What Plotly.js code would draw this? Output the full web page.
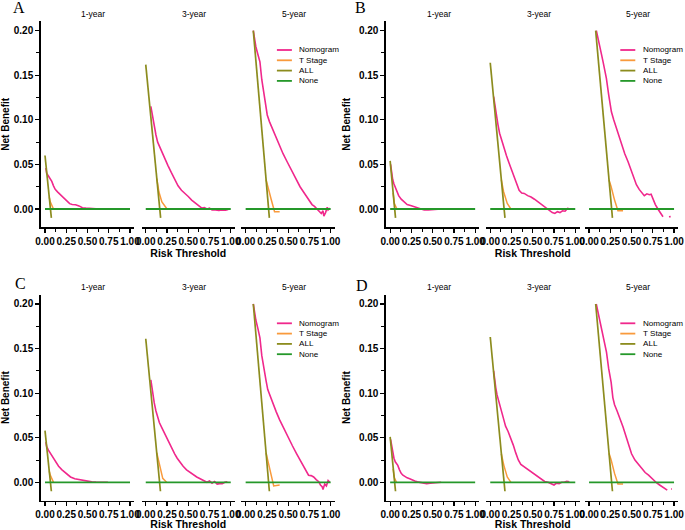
<!DOCTYPE html>
<html>
<head>
<meta charset="utf-8">
<script src="https://cdn.plot.ly/plotly-3.0.1.min.js"></script>
<style>html,body{margin:0;padding:0;background:#fff;}#chart{width:685px;height:530px;}</style>
</head>
<body>
<div id="chart"></div>
<script>
// ---------- data ----------
const panelLetters = ['A', 'B', 'C', 'D'];
const horizonLabels = ['1-year', '3-year', '5-year'];
const seriesNames = ['Nomogram', 'T Stage', 'ALL', 'None'];
const xTickVals = [0, 0.25, 0.5, 0.75, 1];
const xTickText = ['0.00', '0.25', '0.50', '0.75', '1.00'];
const yTickVals = [0, 0.05, 0.1, 0.15, 0.2];
const yTickText = ['0.00', '0.05', '0.10', '0.15', '0.20'];
const noneX = [0, 1];
const noneY = [0, 0];

// Panel A
const nomA1x = [0.01, 0.02, 0.04, 0.06, 0.08, 0.10, 0.12, 0.15, 0.18, 0.21, 0.25, 0.29, 0.32, 0.36, 0.40, 0.44, 0.48, 0.53, 0.60, 0.70, 0.80, 0.86];
const nomA1y = [0.046, 0.040, 0.037, 0.034, 0.031, 0.026, 0.022, 0.019, 0.016, 0.013, 0.009, 0.006, 0.005, 0.0048, 0.0035, 0.0015, 0.001, 0.0005, 0.0003, 0.0002, 0.0003, 0.0];
const tA1x = [0.05, 0.062, 0.10];
const tA1y = [0.0133, 0.008, 0.0];
const allA1x = [0, 0.075];
const allA1y = [0.060, -0.010];

const nomA3x = [0.06, 0.08, 0.10, 0.12, 0.14, 0.17, 0.20, 0.23, 0.26, 0.30, 0.34, 0.38, 0.42, 0.46, 0.50, 0.54, 0.58, 0.62, 0.66, 0.69, 0.72, 0.75, 0.78, 0.82, 0.86, 0.90, 0.94, 0.97];
const nomA3y = [0.115, 0.103, 0.092, 0.083, 0.075, 0.068, 0.062, 0.055, 0.049, 0.041, 0.033, 0.026, 0.021, 0.018, 0.014, 0.010, 0.007, 0.004, 0.001, 0.0015, 0.0, 0.001, -0.001, -0.001, -0.0015, -0.001, -0.0012, -0.0005];
const tA3x = [0.13, 0.155, 0.19, 0.24, 0.25];
const tA3y = [0.034, 0.019, 0.008, 0.0007, 0.0];
const allA3x = [0, 0.175];
const allA3y = [0.162, -0.010];

const nomA5x = [0.09, 0.10, 0.12, 0.145, 0.168, 0.19, 0.215, 0.235, 0.254, 0.28, 0.312, 0.35, 0.39, 0.44, 0.488, 0.54, 0.586, 0.64, 0.703, 0.74, 0.781, 0.81, 0.84, 0.87, 0.89, 0.91, 0.92, 0.94, 0.96, 0.97, 0.99];
const nomA5y = [0.200, 0.192, 0.182, 0.173, 0.165, 0.145, 0.128, 0.116, 0.1055, 0.098, 0.0906, 0.081, 0.072, 0.062, 0.053, 0.043, 0.035, 0.025, 0.016, 0.010, 0.005, 0.003, 0.000, -0.003, -0.005, -0.002, -0.008, -0.004, 0.002, -0.001, 0.001];
const tA5x = [0.24, 0.26, 0.30, 0.34, 0.40];
const tA5y = [0.033, 0.025, 0.011, -0.003, -0.003];
const allA5x = [0.09, 0.279];
const allA5y = [0.200, -0.010];

// Panel B
const nomB1x = [0.005, 0.012, 0.02, 0.03, 0.045, 0.06, 0.08, 0.10, 0.13, 0.16, 0.20, 0.24, 0.28, 0.32, 0.36, 0.40, 0.45, 0.50, 0.55, 0.60];
const nomB1y = [0.050, 0.045, 0.038, 0.033, 0.028, 0.024, 0.019, 0.015, 0.011, 0.008, 0.005, 0.004, 0.0028, 0.0015, 0.0, -0.001, -0.001, -0.0008, -0.0003, 0.0];
const tB1x = [0.035, 0.05, 0.08];
const tB1y = [0.018, 0.006, 0.0];
const allB1x = [0, 0.063];
const allB1y = [0.054, -0.010];

const nomB3x = [0.04, 0.055, 0.07, 0.09, 0.11, 0.13, 0.15, 0.17, 0.19, 0.22, 0.25, 0.28, 0.31, 0.34, 0.37, 0.40, 0.44, 0.48, 0.52, 0.56, 0.60, 0.63, 0.66, 0.70, 0.73, 0.76, 0.79, 0.82, 0.85, 0.88, 0.91, 0.94];
const nomB3y = [0.126, 0.115, 0.106, 0.095, 0.085, 0.078, 0.071, 0.065, 0.060, 0.052, 0.044, 0.036, 0.027, 0.021, 0.018, 0.0175, 0.015, 0.0135, 0.011, 0.008, 0.005, 0.003, 0.0005, -0.002, -0.004, -0.005, -0.003, -0.004, -0.002, -0.0025, 0.0007, 0.0];
const tB3x = [0.13, 0.157, 0.20, 0.243];
const tB3y = [0.033, 0.0194, 0.0063, 0.0];
const allB3x = [0, 0.173];
const allB3y = [0.164, -0.010];

const nomB5x = [0.086, 0.10, 0.125, 0.145, 0.165, 0.185, 0.204, 0.231, 0.263, 0.29, 0.322, 0.35, 0.38, 0.42, 0.459, 0.49, 0.518, 0.557, 0.59, 0.62, 0.65, 0.68, 0.71, 0.73, 0.75, 0.78, 0.81, 0.84, 0.87, null, 0.94, 0.96];
const nomB5y = [0.200, 0.193, 0.183, 0.174, 0.165, 0.155, 0.1465, 0.128, 0.109, 0.100, 0.0906, 0.081, 0.072, 0.062, 0.053, 0.045, 0.0384, 0.0272, 0.022, 0.018, 0.015, 0.017, 0.016, 0.0165, 0.011, 0.005, 0.0, -0.004, -0.0086, null, -0.0086, -0.0085];
const tB5x = [0.235, 0.26, 0.30, 0.34, 0.40];
const tB5y = [0.0326, 0.025, 0.010, -0.002, -0.002];
const allB5x = [0.078, 0.275];
const allB5y = [0.200, -0.010];

// Panel C
const nomC1x = [0.01, 0.02, 0.04, 0.06, 0.08, 0.10, 0.13, 0.16, 0.20, 0.25, 0.30, 0.35, 0.40, 0.45, 0.50, 0.55, 0.60, 0.65, 0.70, 0.74];
const nomC1y = [0.045, 0.040, 0.036, 0.033, 0.030, 0.026, 0.022, 0.018, 0.014, 0.010, 0.006, 0.004, 0.003, 0.002, 0.001, 0.0005, 0.0003, 0.0002, 0.0002, 0.0001];
const tC1x = [0.05, 0.062, 0.10];
const tC1y = [0.0126, 0.008, 0.0];
const allC1x = [0, 0.075];
const allC1y = [0.058, -0.010];

const nomC3x = [0.06, 0.08, 0.10, 0.12, 0.14, 0.16, 0.19, 0.22, 0.25, 0.28, 0.31, 0.34, 0.37, 0.40, 0.44, 0.48, 0.52, 0.56, 0.60, 0.64, 0.68, 0.72, 0.75, 0.78, 0.81, 0.84, 0.87, 0.90, 0.93, 0.96];
const nomC3y = [0.115, 0.100, 0.089, 0.080, 0.073, 0.067, 0.061, 0.055, 0.049, 0.043, 0.037, 0.032, 0.027, 0.023, 0.018, 0.014, 0.011, 0.008, 0.006, 0.004, 0.002, 0.0, 0.0015, -0.001, 0.001, -0.002, -0.0015, -0.0015, 0.0, 0.0005];
const tC3x = [0.13, 0.16, 0.20, 0.245];
const tC3y = [0.033, 0.019, 0.0045, 0.0];
const allC3x = [0, 0.173];
const allC3y = [0.161, -0.010];

const nomC5x = [0.09, 0.10, 0.12, 0.145, 0.168, 0.19, 0.215, 0.24, 0.26, 0.29, 0.32, 0.36, 0.40, 0.45, 0.50, 0.55, 0.60, 0.65, 0.70, 0.74, 0.77, 0.80, 0.83, 0.86, 0.88, 0.90, 0.91, 0.93, 0.95, 0.97, 0.99];
const nomC5y = [0.200, 0.192, 0.182, 0.172, 0.162, 0.142, 0.126, 0.114, 0.104, 0.096, 0.088, 0.079, 0.070, 0.060, 0.050, 0.041, 0.032, 0.023, 0.014, 0.008, 0.0075, 0.006, 0.003, 0.0007, -0.003, -0.005, -0.008, -0.002, -0.004, 0.002, 0.0];
const tC5x = [0.24, 0.26, 0.30, 0.33, 0.40];
const tC5y = [0.033, 0.025, 0.010, -0.004, -0.003];
const allC5x = [0.09, 0.279];
const allC5y = [0.200, -0.010];

// Panel D
const nomD1x = [0.005, 0.012, 0.02, 0.03, 0.045, 0.06, 0.075, 0.09, 0.11, 0.13, 0.15, 0.17, 0.20, 0.23, 0.26, 0.29, 0.32, 0.35, 0.39, 0.43, 0.47, 0.51, 0.55, 0.60];
const nomD1y = [0.048, 0.044, 0.038, 0.032, 0.027, 0.023, 0.021, 0.019, 0.014, 0.010, 0.008, 0.0065, 0.005, 0.004, 0.0025, 0.0015, 0.0005, 0.0, -0.001, -0.0015, -0.001, -0.0005, 0.0, 0.0];
const tD1x = [0.035, 0.05, 0.075];
const tD1y = [0.015, 0.005, 0.0];
const allD1x = [0, 0.063];
const allD1y = [0.051, -0.010];

const nomD3x = [0.04, 0.05, 0.065, 0.08, 0.10, 0.12, 0.14, 0.16, 0.18, 0.21, 0.24, 0.27, 0.30, 0.33, 0.36, 0.39, 0.42, 0.45, 0.48, 0.52, 0.56, 0.60, 0.64, 0.68, 0.72, 0.75, 0.78, 0.81, 0.84, 0.87, 0.90, 0.93];
const nomD3y = [0.125, 0.115, 0.106, 0.098, 0.090, 0.084, 0.077, 0.070, 0.063, 0.057, 0.050, 0.042, 0.033, 0.025, 0.020, 0.018, 0.016, 0.014, 0.012, 0.0085, 0.006, 0.003, 0.001, 0.0, -0.002, -0.003, -0.001, -0.0015, 0.0, 0.0, 0.001, 0.0005];
const tD3x = [0.13, 0.16, 0.20, 0.243];
const tD3y = [0.032, 0.019, 0.006, 0.0];
const allD3x = [0, 0.173];
const allD3y = [0.163, -0.010];

const nomD5x = [0.085, 0.10, 0.125, 0.145, 0.165, 0.185, 0.205, 0.23, 0.26, 0.28, 0.30, 0.33, 0.37, 0.40, 0.44, 0.47, 0.50, 0.54, 0.58, 0.62, 0.66, 0.70, 0.74, 0.77, 0.80, 0.83, 0.86, 0.89, 0.92, null, 0.965, 0.975];
const nomD5y = [0.200, 0.193, 0.183, 0.175, 0.166, 0.156, 0.146, 0.128, 0.112, 0.095, 0.087, 0.080, 0.070, 0.062, 0.050, 0.040, 0.032, 0.025, 0.020, 0.015, 0.011, 0.008, 0.004, 0.002, -0.001, -0.003, -0.005, -0.006, -0.0088, null, -0.0075, -0.0075];
const tD5x = [0.235, 0.26, 0.30, 0.34, 0.40];
const tD5y = [0.0326, 0.025, 0.010, -0.002, -0.002];
const allD5x = [0.078, 0.275];
const allD5y = [0.200, -0.010];

// ---------- assembly ----------
const panelData = [
  [[nomA1x, nomA1y, tA1x, tA1y, allA1x, allA1y], [nomA3x, nomA3y, tA3x, tA3y, allA3x, allA3y], [nomA5x, nomA5y, tA5x, tA5y, allA5x, allA5y]],
  [[nomB1x, nomB1y, tB1x, tB1y, allB1x, allB1y], [nomB3x, nomB3y, tB3x, tB3y, allB3x, allB3y], [nomB5x, nomB5y, tB5x, tB5y, allB5x, allB5y]],
  [[nomC1x, nomC1y, tC1x, tC1y, allC1x, allC1y], [nomC3x, nomC3y, tC3x, tC3y, allC3x, allC3y], [nomC5x, nomC5y, tC5x, tC5y, allC5x, allC5y]],
  [[nomD1x, nomD1y, tD1x, tD1y, allD1x, allD1y], [nomD3x, nomD3y, tD3x, tD3y, allD3x, allD3y], [nomD5x, nomD5y, tD5x, tD5y, allD5x, allD5y]]
];

const colors = ['#F0288C', '#F99A3C', '#8C8C1E', '#25982A'];
const widths = [1.6, 1.5, 1.7, 1.8];

const W = 685, H = 530;
const px = v => v / W;
const py = v => 1 - v / H;
const subW = 93.5;
// panel geometry in pixels
const geom = [
  {x0s: [40.75, 141.5, 241.4], top: 21.3, bot: 227.3, letterX: 19, letterY: 8},
  {x0s: [385.9, 486.0, 584.8], top: 21.3, bot: 227.3, letterX: 361, letterY: 8},
  {x0s: [40.75, 141.5, 241.4], top: 294.6, bot: 500.6, letterX: 20, letterY: 283},
  {x0s: [385.9, 486.0, 584.8], top: 294.6, bot: 500.6, letterX: 362, letterY: 285}
];

const baseFont = 'Liberation Sans, Arial, Helvetica, sans-serif';
const traces = [];
const layout = {
  width: W, height: H,
  margin: {l: 0, r: 0, t: 0, b: 0},
  paper_bgcolor: '#ffffff', plot_bgcolor: '#ffffff',
  showlegend: false,
  annotations: [], shapes: []
};

geom.forEach((g, p) => {
  const yIdx = p + 1;
  const yName = 'yaxis' + (yIdx === 1 ? '' : yIdx);
  const yId = 'y' + (yIdx === 1 ? '' : yIdx);
  const firstX = 'x' + (p * 3 + 1 === 1 ? '' : (p * 3 + 1));
  layout[yName] = {
    domain: [py(g.bot), py(g.top)], anchor: firstX,
    range: [-0.0205, 0.2105], fixedrange: true,
    tickmode: 'array', tickvals: yTickVals, ticktext: yTickText, tickangle: 0,
    ticks: 'outside', ticklen: 4, tickwidth: 1.2, tickcolor: '#000',
    minor: {tickvals: [0.025, 0.075, 0.125, 0.175], ticks: 'outside', ticklen: 3, tickwidth: 1, tickcolor: '#000'},
    showline: true, linecolor: '#000', linewidth: 1.5,
    showgrid: false, zeroline: false, ticklabeloverflow: 'allow',
    tickfont: {family: baseFont, size: 10, color: '#000', weight: 'bold'},
    title: {text: 'Net Benefit', font: {family: baseFont, size: 10, color: '#000', weight: 'bold'}, standoff: 6},
    automargin: false
  };
  for (let s = 0; s < 3; s++) {
    const xIdx = p * 3 + s + 1;
    const xName = 'xaxis' + (xIdx === 1 ? '' : xIdx);
    const xId = 'x' + (xIdx === 1 ? '' : xIdx);
    const x0 = g.x0s[s];
    layout[xName] = {
      domain: [px(x0), px(x0 + subW)], anchor: yId,
      range: [-0.05, 1.05], fixedrange: true,
      tickmode: 'array', tickvals: xTickVals, ticktext: xTickText, tickangle: 0,
      ticks: 'outside', ticklen: 4, tickwidth: 1.2, tickcolor: '#000',
      minor: {tickvals: [0.125, 0.375, 0.625, 0.875], ticks: 'outside', ticklen: 3, tickwidth: 1, tickcolor: '#000'},
      showline: true, linecolor: '#000', linewidth: 1.5,
      showgrid: false, zeroline: false, ticklabeloverflow: 'allow',
      tickfont: {family: baseFont, size: 10, color: '#000', weight: 'bold'},
      automargin: false
    };
    if (s === 1) {
      layout[xName].title = {text: 'Risk Threshold', font: {family: baseFont, size: 10.5, color: '#000', weight: 'bold'}, standoff: 4};
    }
    const d = panelData[p][s];
    const xs = [d[0], d[2], d[4], noneX];
    const ys = [d[1], d[3], d[5], noneY];
    for (let k = 0; k < 4; k++) {
      traces.push({
        type: 'scatter', mode: 'lines', name: seriesNames[k],
        x: xs[k], y: ys[k], xaxis: xId, yaxis: yId,
        line: {color: colors[k], width: widths[k]},
        connectgaps: false, hoverinfo: 'skip', showlegend: false
      });
    }
    // subplot title
    layout.annotations.push({
      xref: 'paper', yref: 'paper', x: px(x0 + subW / 2 + 6), y: py(g.top - 7.5),
      text: horizonLabels[s], showarrow: false, xanchor: 'center', yanchor: 'middle',
      font: {family: baseFont, size: 8.5, color: '#000'}
    });
  }
  // panel letter
  layout.annotations.push({
    xref: 'paper', yref: 'paper', x: px(g.letterX), y: py(g.letterY),
    text: panelLetters[p], showarrow: false, xanchor: 'center', yanchor: 'middle',
    font: {family: 'Liberation Serif, Times New Roman, serif', size: 16, color: '#000'}
  });
  // legend drawn inside the 5-year subplot
  const lx = g.x0s[2];
  for (let k = 0; k < 4; k++) {
    const ly = g.top + 28.7 + k * 10.3;
    layout.shapes.push({
      type: 'line', xref: 'paper', yref: 'paper',
      x0: px(lx + 35.5), x1: px(lx + 50.5), y0: py(ly), y1: py(ly),
      line: {color: colors[k], width: 1.8}
    });
    layout.annotations.push({
      xref: 'paper', yref: 'paper', x: px(lx + 56), y: py(ly),
      text: seriesNames[k], showarrow: false, xanchor: 'left', yanchor: 'middle',
      font: {family: baseFont, size: 8.1, color: '#000'}
    });
  }
});

Plotly.newPlot('chart', traces, layout, {staticPlot: true, displayModeBar: false});
</script>
</body>
</html>
